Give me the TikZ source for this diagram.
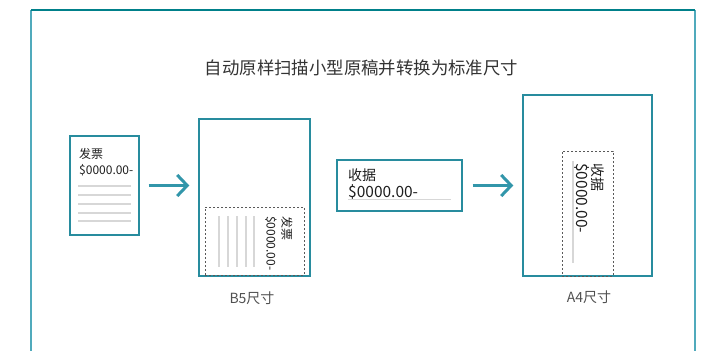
\documentclass[tikz,border=0pt]{standalone}
\usepackage{fontspec}
\setmainfont{Noto Sans CJK SC}
\usetikzlibrary{arrows.meta}
\definecolor{frameteal}{RGB}{0,128,138}
\definecolor{frameside}{RGB}{80,170,188}
\definecolor{boxteal}{RGB}{40,140,158}
\definecolor{arrteal}{RGB}{50,150,170}
\definecolor{lightline}{RGB}{215,215,215}
\definecolor{txt}{RGB}{30,30,30}
\definecolor{lbl}{RGB}{80,80,80}
\tikzset{
  paper/.style={draw=boxteal,line width=1.4pt,fill=white,inner sep=0,minimum width=#1},
  dashbox/.style={draw=black!65,line width=0.7pt,dash pattern=on 2pt off 2pt,inner sep=0},
  txtnode/.style={inner sep=0,text=txt},
  graylinestyle/.style={draw=lightline,line width=1.8pt},
  bigarrow/.style={draw=arrteal,line width=3pt,-{Straight Barb[length=10pt,width=21pt]}},
  lblnode/.style={inner sep=0,text=lbl,font=\fontsize{14}{16}\selectfont}
}
\begin{document}
\begin{tikzpicture}[x=1pt,y=-1pt]
\useasboundingbox (0,0) rectangle (705,351);
% outer frame
\draw[frameside,line width=1.5pt] (31,352) -- (31,10);
\draw[frameside,line width=1.5pt] (695,10) -- (695,352);
\draw[frameteal,line width=1.5pt] (31,10) -- (695,10);
% title
\node[txtnode,text=black!80,font=\fontsize{17.4}{20}\selectfont] (title) at (361.5,68) {自动原样扫描小型原稿并转换为标准尺寸};
% receipt 1
\node[paper=69pt,minimum height=99pt] (r1) at (104.5,185.5) {};
\node[txtnode,anchor=base west,font=\fontsize{12}{14}\selectfont] (r1a) at (79,158) {发票};
\node[txtnode,anchor=base west,font=\fontsize{12}{14}\selectfont] (r1b) at (79,174) {\$0000.00-};
\foreach \yy in {186,195,204,213,221}{\draw[graylinestyle] (78,\yy) -- (131,\yy);}
% B5
\node[paper=111pt,minimum height=157pt] (b5) at (254.5,197.5) {};
\node[dashbox,minimum width=99pt,minimum height=68pt] (b5d) at (254.5,241) {};
\foreach \xx in {219,228,237,246,254}{\draw[graylinestyle] (\xx,216) -- (\xx,267);}
\node[txtnode,rotate=-90,anchor=west,font=\fontsize{12}{14}\selectfont] (b5a) at (287,216) {发票};
\node[txtnode,rotate=-90,anchor=west,font=\fontsize{12}{14}\selectfont] (b5b) at (271,216) {\$0000.00-};
\node[lblnode] (b5l) at (252,298) {B5尺寸};
% receipt 2
\node[paper=125pt,minimum height=51pt] (r2) at (399.5,185.5) {};
\node[txtnode,anchor=base west,font=\fontsize{14}{16}\selectfont] (r2a) at (348,180.5) {收据};
\node[txtnode,anchor=base west,font=\fontsize{15.5}{17}\selectfont] (r2b) at (348,197) {\$0000.00-};
\draw[graylinestyle] (348,199.5) -- (451,199.5);
% A4
\node[paper=129pt,minimum height=181pt] (a4) at (587.5,185.5) {};
\node[dashbox,minimum width=51pt,minimum height=125pt] (a4d) at (587.5,213.5) {};
\draw[graylinestyle] (573,161) -- (573,263);
\node[txtnode,rotate=-90,anchor=west,font=\fontsize{14}{16}\selectfont] (a4a) at (598,163) {收据};
\node[txtnode,rotate=-90,anchor=west,font=\fontsize{15.5}{17}\selectfont] (a4b) at (582,163) {\$0000.00-};
\node[lblnode] (a4l) at (589,297) {A4尺寸};
% arrows
\draw[bigarrow,shorten <=9pt,shorten >=9pt] (r1.east) -- (r1.east -| b5.west);
\draw[bigarrow,shorten <=10pt,shorten >=9pt] (r2.east) -- (r2.east -| a4.west);
\end{tikzpicture}
\end{document}
